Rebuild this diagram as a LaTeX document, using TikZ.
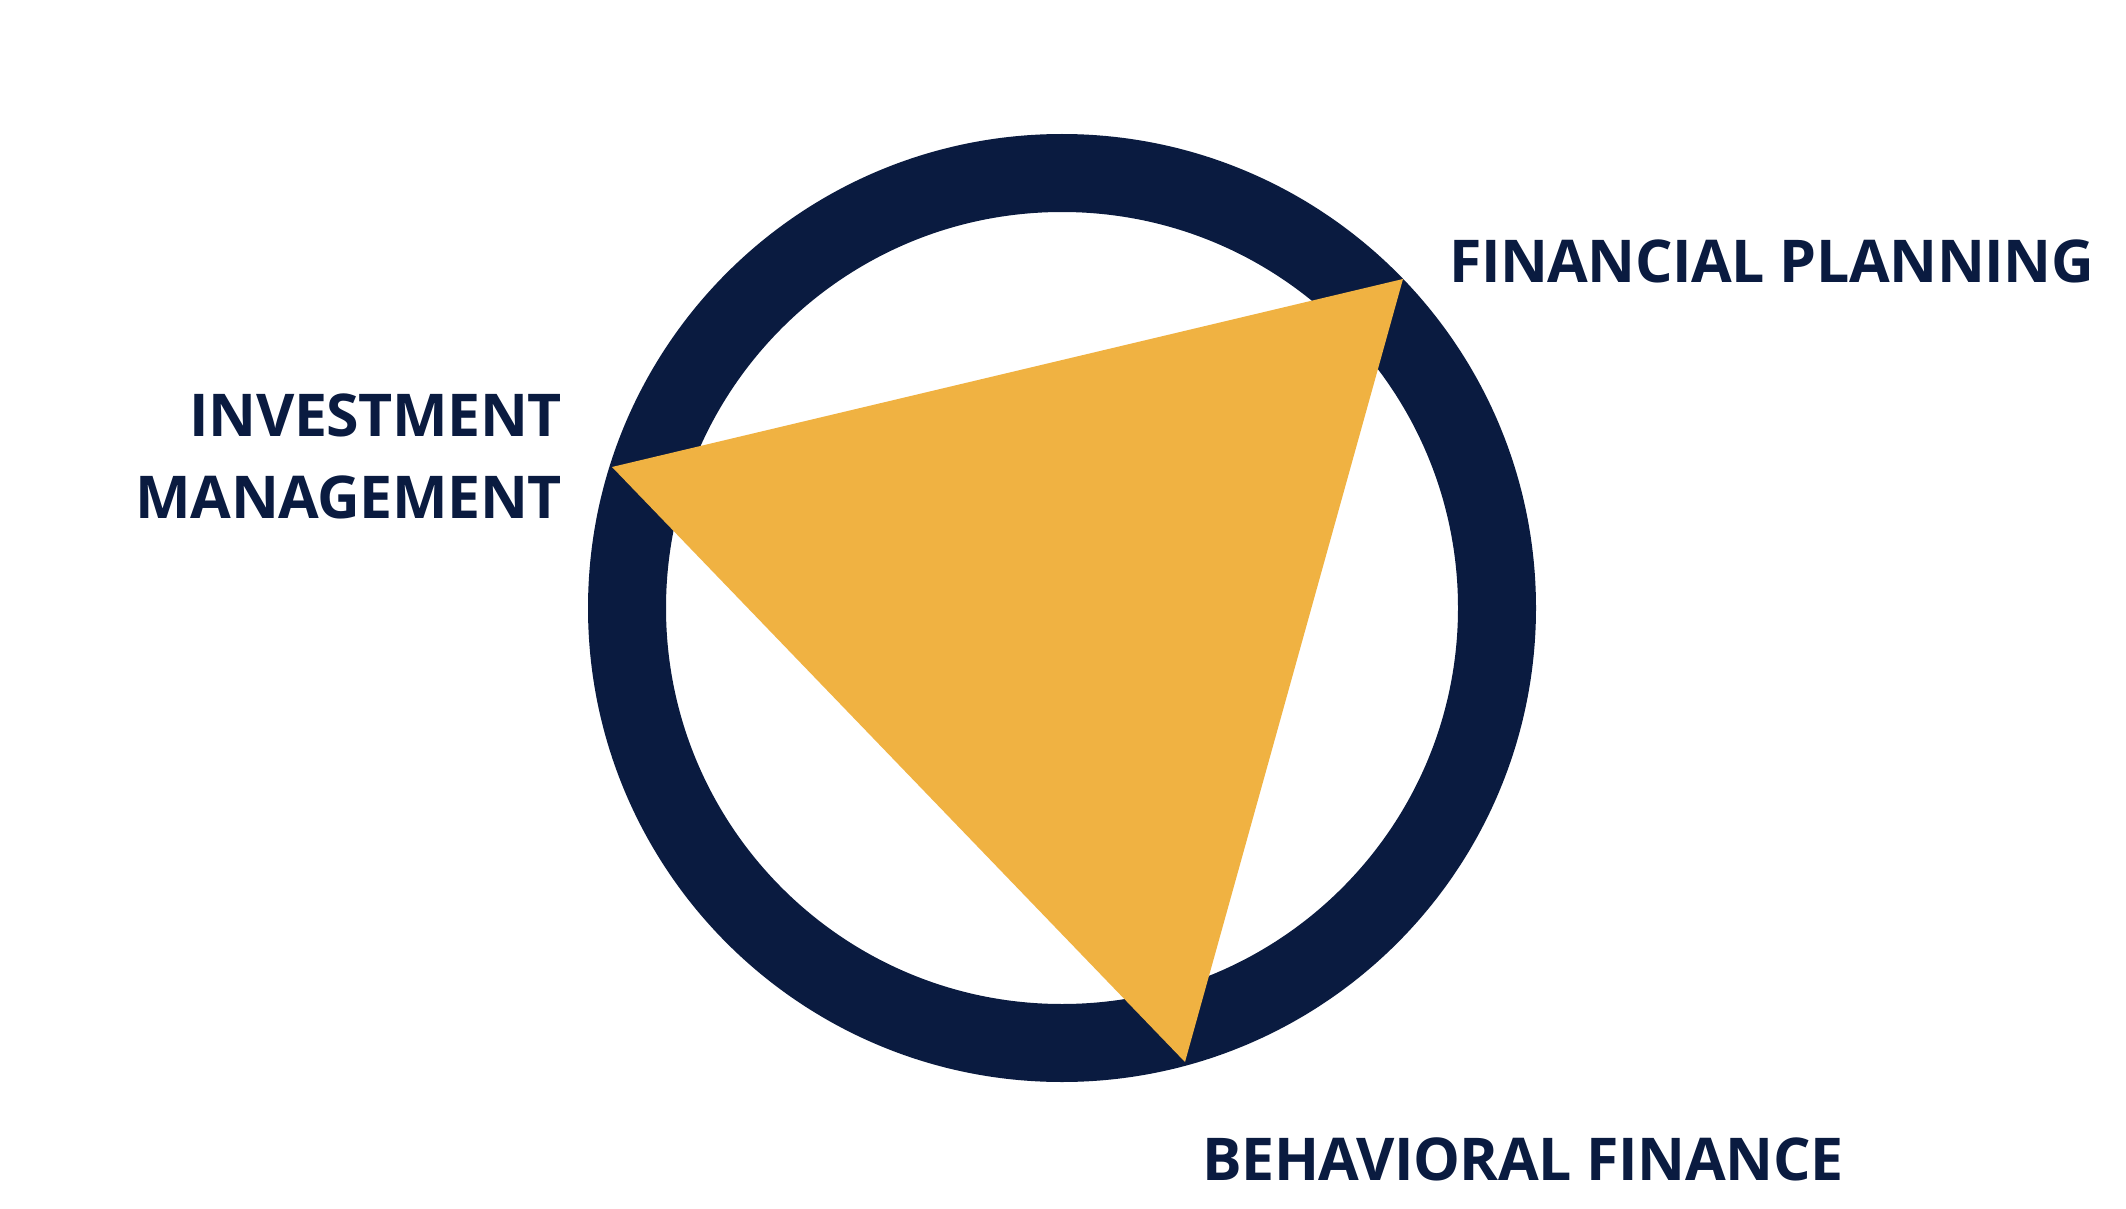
\documentclass[tikz,border=0pt]{standalone}
\usepackage{fontspec}
\newfontfamily\lblfont[LetterSpace=-0.8]{Open Sans}
\definecolor{navy}{HTML}{0A1B40}
\definecolor{gold}{HTML}{F0B242}
\begin{document}
\begin{tikzpicture}[x=1pt,y=-1pt,
  lbl/.style={inner sep=0pt, text=navy, font=\lblfont\bfseries\fontsize{59}{82}\selectfont}]
\useasboundingbox[fill=white] (0,0) rectangle (2126,1209);
\coordinate (c) at (1062,608);
\draw[navy, line width=78pt] (c) circle[radius=435];
\coordinate (im) at (612,467);
\coordinate (fp) at (1403,279);
\coordinate (bf) at (1185,1062);
\fill[gold] (im) -- (fp) -- (bf) -- cycle;
\node[lbl, anchor=base west] (tfp) at (1449,283) {FINANCIAL PLANNING};
\node[lbl, anchor=base west] (tbf) at (1202,1180) {BEHAVIORAL FINANCE};
\node[lbl, anchor=base east] (tinv) at (562,436) {INVESTMENT};
\node[lbl, anchor=base east] (tman) at (562,518) {MANAGEMENT};
\end{tikzpicture}
\end{document}
